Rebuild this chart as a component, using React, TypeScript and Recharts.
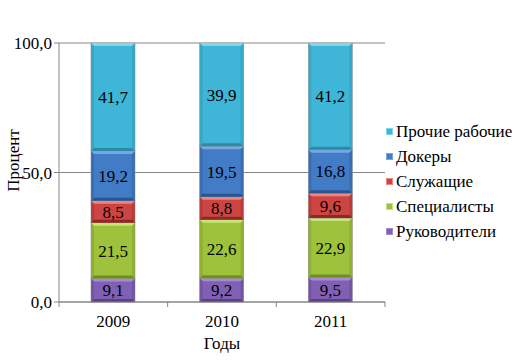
import { BarChart, Bar, XAxis, YAxis, CartesianGrid, LabelList } from 'recharts';

const years = ['2009', '2010', '2011'];
const managers = [9.1, 9.2, 9.5];
const specialists = [21.5, 22.6, 22.9];
const clerks = [8.5, 8.8, 9.6];
const dockers = [19.2, 19.5, 16.8];
const otherWorkers = [41.7, 39.9, 41.2];
const yTicks = [0, 50, 100];

const series = [
  { key: 'managers', name: 'Руководители', color: '#8060B2', light: '#A68AD6', dark: '#5A3F87' },
  { key: 'specialists', name: 'Специалисты', color: '#9FC23C', light: '#C8E37A', dark: '#718E22' },
  { key: 'clerks', name: 'Служащие', color: '#CD4542', light: '#EC8683', dark: '#8E2826' },
  { key: 'dockers', name: 'Докеры', color: '#427BC6', light: '#77A7E4', dark: '#2A5690' },
  { key: 'otherWorkers', name: 'Прочие рабочие', color: '#3FB6D7', light: '#80D6EE', dark: '#2A8CA4' },
];

const data = years.map((year, i) => ({
  year,
  managers: managers[i],
  specialists: specialists[i],
  clerks: clerks[i],
  dockers: dockers[i],
  otherWorkers: otherWorkers[i],
}));

const FONT = 'Liberation Serif';
const FS = 17;
const comma = (v: any) => Number(v).toFixed(1).replace('.', ',');

const W = 519;
const H = 360;
const M = { top: 43, right: 134, bottom: 0, left: 0 };
const Y_W = 59;
const BAND = (W - M.right - Y_W) / years.length;

// bevelled segment, like the old Excel style
const makeShape = (s: typeof series[number]) => (props: any) => {
  const { x, y, width, height } = props;
  if (!height || height <= 0) return null;
  const b = Math.min(3, height / 3);
  return (
    <g>
      <rect x={x} y={y} width={width} height={height} fill={s.color} stroke="#9a9a9a" strokeWidth={0.6} />
      <polygon points={`${x},${y} ${x + width},${y} ${x + width - b},${y + b} ${x + b},${y + b}`} fill={s.light} />
      <polygon points={`${x},${y + height} ${x + width},${y + height} ${x + width - b},${y + height - b} ${x + b},${y + height - b}`} fill={s.dark} />
      <polygon points={`${x},${y} ${x + b},${y + b} ${x + b},${y + height - b} ${x},${y + height}`} fill={s.dark} opacity={0.35} />
      <polygon points={`${x + width},${y} ${x + width - b},${y + b} ${x + width - b},${y + height - b} ${x + width},${y + height}`} fill={s.dark} opacity={0.35} />
    </g>
  );
};

const XTick = (props: any) => {
  const { x, y, payload, index } = props;
  const left = x - BAND / 2;
  const right = x + BAND / 2;
  return (
    <g>
      <line x1={right} y1={y - 8} x2={right} y2={y - 3} stroke="#868686" />
      {index === 0 && <line x1={left} y1={y - 8} x2={left} y2={y - 3} stroke="#868686" />}
      <text x={x} y={y + 17} textAnchor="middle" fontFamily={FONT} fontSize={FS} fill="#000">
        {payload.value}
      </text>
    </g>
  );
};

const YLabel = (props: any) => {
  const { viewBox } = props;
  const x = viewBox.x + 19;
  const y = viewBox.y + viewBox.height / 2 - 12;
  return (
    <text x={x} y={y} transform={`rotate(-90 ${x} ${y})`} textAnchor="middle" fontFamily={FONT} fontSize={FS} fill="#000">
      Процент
    </text>
  );
};

const LegendBox = () => (
  <div style={{ position: 'absolute', left: 386, top: 119, fontFamily: FONT, fontSize: FS, color: '#000' }}>
    {[...series].reverse().map((s) => (
      <div key={s.key} style={{ display: 'flex', alignItems: 'center', height: 25, whiteSpace: 'nowrap' }}>
        <span
          style={{
            width: 7,
            height: 7,
            marginRight: 3,
            background: s.color,
            border: `1px solid ${s.light}`,
            boxSizing: 'border-box',
          }}
        />
        {s.name}
      </div>
    ))}
  </div>
);

export default function App() {
  return (
    <div style={{ position: 'absolute', left: 0, top: 0, width: W, height: H, background: '#fff', fontFamily: FONT }}>
      <BarChart width={W} height={H} data={data} margin={M} barSize={44}>
        <CartesianGrid vertical={false} stroke="#868686" />
        <XAxis
          dataKey="year"
          height={58}
          stroke="#868686"
          tickLine={false}
          tick={<XTick />}
          label={{ value: 'Годы', position: 'insideBottom', offset: 11, fontFamily: FONT, fontSize: FS, fill: '#000' }}
        />
        <YAxis
          width={Y_W}
          domain={[0, 100]}
          ticks={yTicks}
          stroke="#868686"
          tickSize={5}
          tickFormatter={comma}
          tick={{ fontFamily: FONT, fontSize: FS, fill: '#000' }}
          label={<YLabel />}
        />
        {series.map((s) => (
          <Bar
            key={s.key}
            dataKey={s.key}
            name={s.name}
            stackId="a"
            fill={s.color}
            shape={makeShape(s)}
            isAnimationActive={false}
          >
            <LabelList
              dataKey={s.key}
              position="center"
              formatter={comma}
              fontFamily={FONT}
              fontSize={FS}
              fill="#000"
            />
          </Bar>
        ))}
      </BarChart>
      <LegendBox />
    </div>
  );
}
